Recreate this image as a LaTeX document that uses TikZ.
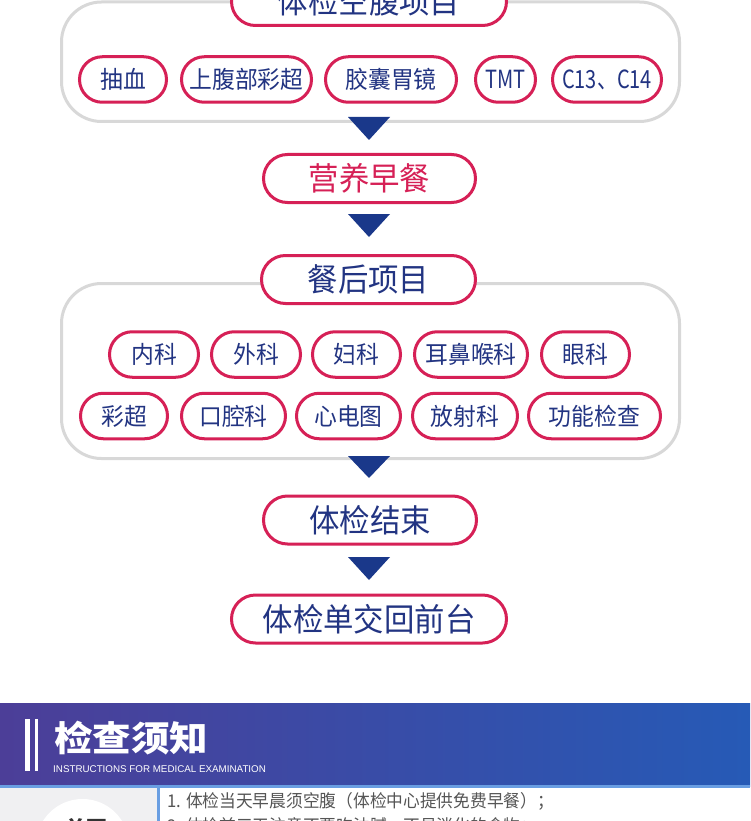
\documentclass[tikz,border=0pt]{standalone}
\usepackage{fontspec}
\setmainfont{Noto Sans CJK SC}[FakeStretch=0.95]
\newfontfamily\narrowfont{Noto Sans CJK SC}[FakeStretch=0.8]
\newfontfamily\bannerfont{Noto Sans CJK SC}[FakeStretch=1.1]
\newfontfamily\latfont{Liberation Sans}
\usetikzlibrary{shapes.misc}
\definecolor{crim}{RGB}{214,32,86}
\definecolor{navy}{RGB}{34,52,130}
\definecolor{tri}{RGB}{26,56,138}
\definecolor{cgray}{RGB}{216,216,216}
\definecolor{bpurple}{RGB}{76,62,152}
\definecolor{bblue}{RGB}{38,90,182}
\definecolor{lblue}{RGB}{105,158,226}
\definecolor{pgray}{RGB}{240,240,242}
\definecolor{tgray}{RGB}{85,85,85}
\tikzset{
  pill/.style={rounded rectangle, draw=crim, line width=3pt, fill=white, inner sep=0pt, text=navy},
  small/.style={pill, minimum height=45.5pt, font=\fontsize{24}{24}\selectfont},
  smallnarrow/.style={small, font=\narrowfont\fontsize{25}{25}\selectfont},
  big/.style={pill, minimum height=48pt, font=\fontsize{32}{32}\selectfont},
  frame/.style={draw=cgray, line width=3pt, rounded corners=40pt},
  arrowtri/.style={fill=tri},
}
\begin{document}
\begin{tikzpicture}[x=1pt,y=-1pt]
\useasboundingbox (0,0) rectangle (750,821);
\clip (0,0) rectangle (750,821);
\fill[white] (0,0) rectangle (750,821);
% containers
\draw[frame] (61.5,2) rectangle (679.5,121.5);
\draw[frame] (61.5,283.5) rectangle (679.5,458.5);
% top group
\node[big, minimum width=275pt] (t1) at (369,1.5) {体检空腹项目};
\node[small, minimum width=87pt]  (a1) at (123,79.5) {抽血};
\node[small, minimum width=130pt] (a2) at (246.5,79.5) {上腹部彩超};
\node[small, minimum width=131pt] (a3) at (391,79.5) {胶囊胃镜};
\node[smallnarrow, minimum width=60pt]  (a4) at (505.5,79.5) {TMT};
\node[smallnarrow, minimum width=109pt] (a5) at (607,79.5) {C13、C14};
% flow boxes
\node[big, minimum width=212pt, text=crim] (b1) at (369.5,178.5) {营养早餐};
\node[big, minimum width=214pt] (b2) at (368.5,279.5) {餐后项目};
\node[small, minimum width=89pt]  (c1) at (154,354.5) {内科};
\node[small, minimum width=89pt]  (c2) at (256,354.5) {外科};
\node[small, minimum width=88pt]  (c3) at (356.5,354.5) {妇科};
\node[small, minimum width=113pt] (c4) at (471,354.5) {耳鼻喉科};
\node[small, minimum width=88pt]  (c5) at (585.5,354.5) {眼科};
\node[small, minimum width=87pt]  (d1) at (124,416) {彩超};
\node[small, minimum width=104pt] (d2) at (233.5,416) {口腔科};
\node[small, minimum width=104pt] (d3) at (348.5,416) {心电图};
\node[small, minimum width=105pt] (d4) at (465,416) {放射科};
\node[small, minimum width=132pt] (d5) at (594.5,416) {功能检查};
\node[big, minimum width=213pt] (b3) at (370,520) {体检结束};
\node[big, minimum width=275pt] (b4) at (369,619) {体检单交回前台};
% triangles
\fill[arrowtri] (348,117) -- (390,117) -- (369,140) -- cycle;
\fill[arrowtri] (348,214) -- (390,214) -- (369,237) -- cycle;
\fill[arrowtri] (348,456) -- (390,456) -- (369,478) -- cycle;
\fill[arrowtri] (348,557) -- (390,557) -- (369,580) -- cycle;
% banner
\shade[left color=bpurple, right color=bblue] (0,703) rectangle (750,786);
\fill[lblue] (0,785) rectangle (750,788);
\fill[white] (25,719) rectangle (30,771);
\fill[white] (35,719) rectangle (38,771);
\node[anchor=west, inner sep=0pt, text=white, font=\bannerfont\bfseries\fontsize{35}{35}\selectfont] (bt) at (54,738) {检查须知};
\node[anchor=west, inner sep=0pt, text=white, font=\latfont\fontsize{9.8}{10}\selectfont] (bs) at (53,769.5) {INSTRUCTIONS FOR MEDICAL EXAMINATION};
% lower panel
\fill[pgray] (0,788) rectangle (157,821);
\fill[lblue] (157,788) rectangle (160,821);
\fill[white] (82.5,845.5) circle (46.5);
\node[inner sep=0pt, text=black!80, font=\bfseries\fontsize{22}{22}\selectfont] (nt) at (86,829) {首要};
\node[anchor=west, inner sep=0pt, text=tgray, font=\fontsize{17.6}{18}\selectfont] (l1) at (167,801.5) {1. 体检当天早晨须空腹（体检中心提供免费早餐）；};
\node[anchor=west, inner sep=0pt, text=tgray, font=\fontsize{17.6}{18}\selectfont] (l2) at (167,826) {2. 体检前三天注意不要吃油腻、不易消化的食物；};
\end{tikzpicture}
\end{document}
